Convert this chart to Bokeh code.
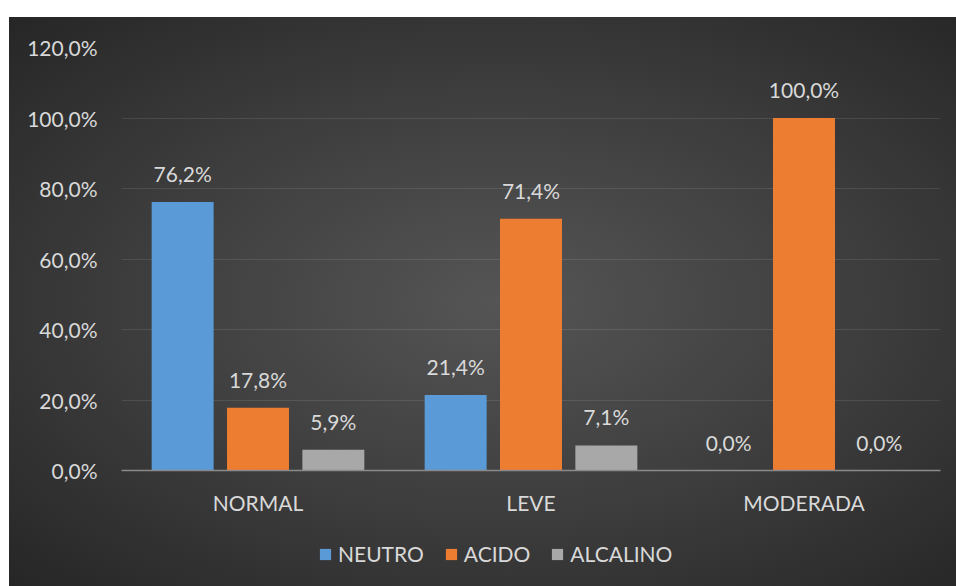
from bokeh.plotting import figure
from bokeh.models import (ColumnDataSource, FactorRange, Range1d, FixedTicker,
                          CustomJSTickFormatter, Legend, LegendItem, Spacer)
from bokeh.transform import dodge
from bokeh.layouts import column, row
from bokeh.core.properties import value
from bokeh.embed import file_html
from bokeh.resources import INLINE

categories = ["NORMAL", "LEVE", "MODERADA"]
series_names = ["NEUTRO", "ACIDO", "ALCALINO"]
neutro = [76.2, 21.4, 0.0]
acido = [17.8, 71.4, 100.0]
alcalino = [5.9, 7.1, 0.0]
y_ticks = [0, 20, 40, 60, 80, 100, 120]

colors = ["#5a9ad7", "#ed7d31", "#a8a8a8"]
offsets = [-0.276, 0.0, 0.276]
FONT = "Lato"
TXT = "#d9d9d9"
FS = "21px"

def fmt(v):
    return f"{v:.1f}".replace(".", ",") + "%"

p = figure(x_range=FactorRange(*categories), y_range=Range1d(0, 120),
           width=947, height=520, output_backend="svg", toolbar_location=None,
           min_border_left=112, min_border_right=16, min_border_top=30,
           min_border_bottom=67)
p.border_fill_color = None
p.background_fill_color = None
p.outline_line_color = None

series = [neutro, acido, alcalino]
for name, vals, col, off in zip(series_names, series, colors, offsets):
    src = ColumnDataSource(dict(cat=categories, val=vals, lab=[fmt(v) for v in vals]))
    p.vbar(x=dodge("cat", off, range=p.x_range), top="val", width=0.227, source=src,
           fill_color=col, line_color=None)
    p.text(x=dodge("cat", off, range=p.x_range), y="val", text="lab", source=src,
           y_offset=-16, text_align="center", text_baseline="bottom",
           text_font=value(FONT), text_font_size=FS, text_color=TXT)

p.yaxis.ticker = FixedTicker(ticks=y_ticks)
p.yaxis.formatter = CustomJSTickFormatter(code="return tick.toFixed(1).replace('.', ',') + '%';")
p.yaxis.axis_line_color = None
p.yaxis.major_tick_line_color = None
p.yaxis.minor_tick_line_color = None
p.yaxis.major_label_standoff = 18
p.yaxis.major_label_text_font = FONT
p.yaxis.major_label_text_font_size = FS
p.yaxis.major_label_text_color = TXT

p.xaxis.axis_line_color = "#8a8a8a"
p.xaxis.axis_line_width = 1.5
p.xaxis.major_tick_line_color = None
p.xaxis.minor_tick_line_color = None
p.xaxis.major_label_standoff = 13
p.xaxis.major_label_text_font = FONT
p.xaxis.major_label_text_font_size = FS
p.xaxis.major_label_text_color = TXT

p.xgrid.grid_line_color = None
p.ygrid.grid_line_color = "#ffffff"
p.ygrid.grid_line_alpha = 0.1

# legend strip: a transparent figure whose (off-screen) series feed the legend
pl = figure(width=947, height=49, x_range=FactorRange(*categories), y_range=Range1d(500, 501),
            output_backend="svg", toolbar_location=None,
            x_axis_location=None, y_axis_location=None,
            min_border=0, min_border_left=112, min_border_right=16,
            min_border_top=0, min_border_bottom=0)
pl.border_fill_color = None
pl.background_fill_color = None
pl.outline_line_color = None
pl.grid.visible = False
items = []
for name, vals, col, off in zip(series_names, series, colors, offsets):
    src = ColumnDataSource(dict(cat=categories, val=vals))
    r = pl.vbar(x=dodge("cat", off, range=pl.x_range), top="val", width=0.227, source=src,
                fill_color=col, line_color=None)
    items.append(LegendItem(label=name, renderers=[r]))
legend = Legend(items=items, orientation="horizontal", location=(197, 20),
                glyph_width=14, glyph_height=14, label_standoff=6, spacing=20,
                padding=0, margin=0, border_line_color=None,
                background_fill_alpha=0, label_text_font=FONT,
                label_text_font_size=FS, label_text_color=TXT)
pl.add_layout(legend, "center")

chart = column(p, pl, spacing=0)
chart.styles = {"background": "radial-gradient(ellipse at 52% 50%, #555555 0%, #3c3c3c 55%, #262626 100%)"}
layout = column(Spacer(height=17), row(Spacer(width=9), chart, spacing=0), spacing=0)
open("out.html", "w").write(file_html(layout, INLINE))
